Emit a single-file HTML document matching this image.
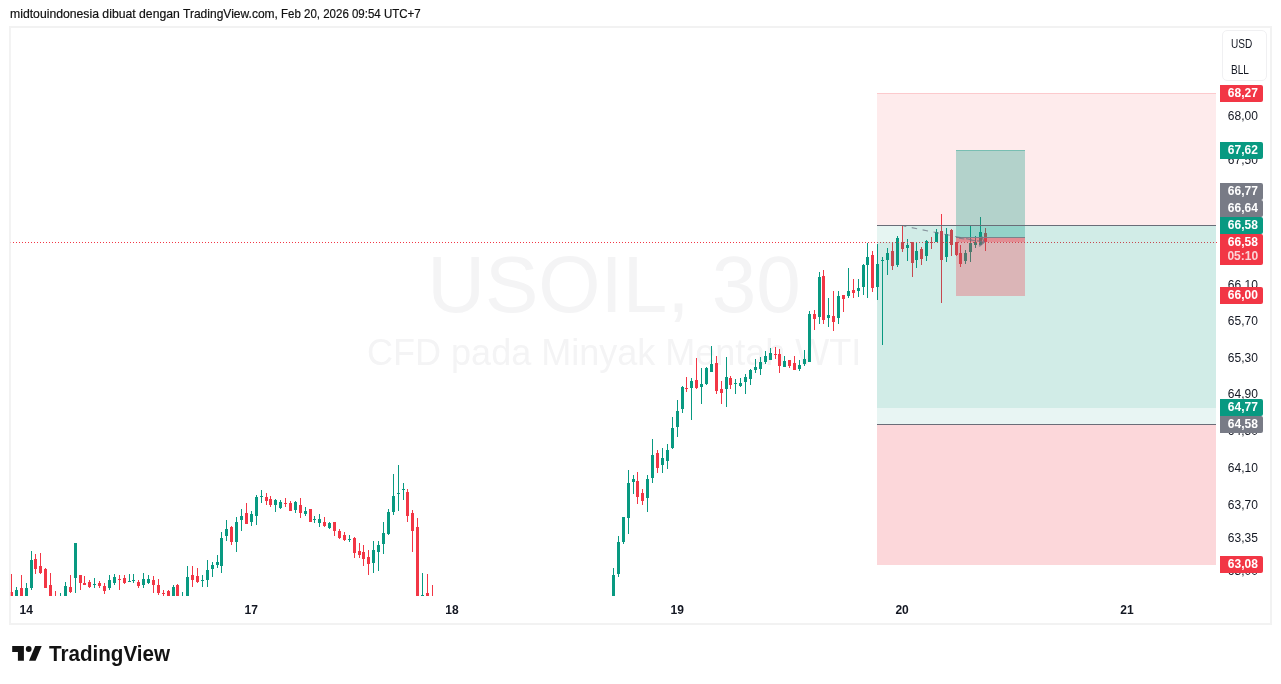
<!DOCTYPE html>
<html><head><meta charset="utf-8"><title>USOIL</title>
<style>
html,body{margin:0;padding:0;background:#fff}
body{width:1281px;height:684px;position:relative;overflow:hidden;font-family:"Liberation Sans",sans-serif;color:#131722}
#hdr{position:absolute;left:10px;top:6.4px;font-size:13px;line-height:15px;white-space:nowrap;color:#111;-webkit-text-stroke:0.2px #111}
#hdr span{position:absolute;top:0;transform-origin:0 50%;white-space:pre}
#frame{position:absolute;left:9px;top:26px;width:1259px;height:595px;border:2px solid #f2f2f2}
#wm1{position:absolute;left:0;width:1228px;top:238.5px;text-align:center;font-size:80px;line-height:92px;color:#f4f4f5;white-space:nowrap}
#wm2{position:absolute;left:0;width:1228.4px;top:333px;text-align:center;font-size:36px;line-height:40px;color:#f4f4f5;white-space:nowrap}
svg{position:absolute;left:0;top:0}
#root{position:absolute;left:0;top:0;width:1281px;height:684px;will-change:transform}
.tk{position:absolute;left:1220px;width:45.6px;text-align:center;font-size:12px;line-height:16px;height:16px;color:#131722}
.lb{position:absolute;left:1220px;width:43px;box-sizing:border-box;padding-left:2.6px;text-align:center;font-size:12px;font-weight:bold;line-height:17px;color:#fff;border-radius:0 2px 2px 0}
.tm{position:absolute;top:602px;width:40px;text-align:center;font-size:12px;font-weight:bold;line-height:16px;color:#131722}
#cur{position:absolute;left:1220px;top:234px;width:43px;height:31px;background:#f23645;border-radius:0 2px 2px 0;box-sizing:border-box;padding-left:2.6px;text-align:center;font-size:12px;font-weight:bold;color:#fff}
#cur div{line-height:14px;height:14px}
#cur .p{margin-top:1px}
#cur .t{color:#fbd3d6;margin-top:0px}
#unit{position:absolute;left:1222.2px;top:30px;width:43px;height:49px;border:1px solid #f0f0f2;border-radius:5px;background:#fff;font-size:12px;text-align:center;color:#131722}
#unit div{position:absolute;left:8px;line-height:14px;transform:scaleX(0.84);transform-origin:0 50%;white-space:nowrap}
#tv{position:absolute;left:49px;top:641px;font-size:21.7px;font-weight:bold;line-height:26px;color:#131313;letter-spacing:0;white-space:nowrap;transform:scaleX(0.95);transform-origin:0 50%}
</style></head><body>
<div id="root">
<div id="hdr"><span style="left:0;transform:scaleX(0.9398)">midtouindonesia dibuat dengan </span><span style="left:173px;transform:scaleX(0.9255)">TradingView.com, </span><span style="left:271.3px;transform:scaleX(0.8846)">Feb 20, 2026 09:54 UTC+7</span></div>
<div id="frame"></div>
<div id="wm1">USOIL, 30</div>
<div id="wm2">CFD pada Minyak Mentah WTI</div>
<svg width="1281" height="684" viewBox="0 0 1281 684" shape-rendering="crispEdges">
<defs><clipPath id="pane"><rect x="10" y="28" width="1207" height="568"/></clipPath></defs>
<g clip-path="url(#pane)">
<rect x="11" y="574" width="1" height="22" fill="#f23645"/>
<rect x="10" y="592" width="3" height="4" fill="#f23645"/>
<rect x="16" y="587" width="1" height="9" fill="#089981"/>
<rect x="15" y="590" width="3" height="6" fill="#089981"/>
<rect x="21" y="575" width="1" height="21" fill="#f23645"/>
<rect x="20" y="588" width="3" height="8" fill="#f23645"/>
<rect x="26" y="583" width="1" height="13" fill="#089981"/>
<rect x="25" y="588" width="3" height="8" fill="#089981"/>
<rect x="31" y="551" width="1" height="39" fill="#089981"/>
<rect x="30" y="560" width="3" height="28" fill="#089981"/>
<rect x="35" y="554" width="1" height="20" fill="#f23645"/>
<rect x="34" y="559" width="3" height="10" fill="#f23645"/>
<rect x="40" y="553" width="1" height="21" fill="#f23645"/>
<rect x="39" y="566" width="3" height="7" fill="#f23645"/>
<rect x="45" y="568" width="1" height="20" fill="#f23645"/>
<rect x="44" y="569" width="3" height="19" fill="#f23645"/>
<rect x="50" y="573" width="1" height="23" fill="#f23645"/>
<rect x="49" y="585" width="3" height="11" fill="#f23645"/>
<rect x="55" y="591" width="1" height="5" fill="#f23645"/>
<rect x="60" y="593" width="1" height="3" fill="#089981"/>
<rect x="65" y="582" width="1" height="14" fill="#089981"/>
<rect x="64" y="586" width="3" height="10" fill="#089981"/>
<rect x="70" y="575" width="1" height="18" fill="#f23645"/>
<rect x="69" y="587" width="3" height="5" fill="#f23645"/>
<rect x="75" y="543" width="1" height="50" fill="#089981"/>
<rect x="74" y="543" width="3" height="35" fill="#089981"/>
<rect x="80" y="575" width="1" height="15" fill="#f23645"/>
<rect x="79" y="575" width="3" height="8" fill="#f23645"/>
<rect x="84" y="576" width="1" height="9" fill="#f23645"/>
<rect x="83" y="583" width="3" height="2" fill="#f23645"/>
<rect x="89" y="580" width="1" height="8" fill="#f23645"/>
<rect x="88" y="582" width="3" height="5" fill="#f23645"/>
<rect x="94" y="578" width="1" height="10" fill="#089981"/>
<rect x="93" y="584" width="3" height="1" fill="#089981"/>
<rect x="99" y="581" width="1" height="7" fill="#f23645"/>
<rect x="98" y="583" width="3" height="3" fill="#f23645"/>
<rect x="104" y="583" width="1" height="11" fill="#f23645"/>
<rect x="103" y="586" width="3" height="5" fill="#f23645"/>
<rect x="109" y="575" width="1" height="15" fill="#089981"/>
<rect x="108" y="580" width="3" height="8" fill="#089981"/>
<rect x="114" y="574" width="1" height="11" fill="#089981"/>
<rect x="113" y="577" width="3" height="6" fill="#089981"/>
<rect x="119" y="575" width="1" height="15" fill="#f23645"/>
<rect x="118" y="579" width="3" height="1" fill="#f23645"/>
<rect x="124" y="575" width="1" height="9" fill="#f23645"/>
<rect x="123" y="578" width="3" height="5" fill="#f23645"/>
<rect x="129" y="574" width="1" height="8" fill="#089981"/>
<rect x="128" y="581" width="3" height="1" fill="#089981"/>
<rect x="133" y="574" width="1" height="9" fill="#089981"/>
<rect x="132" y="580" width="3" height="1" fill="#089981"/>
<rect x="138" y="580" width="1" height="8" fill="#f23645"/>
<rect x="137" y="582" width="3" height="4" fill="#f23645"/>
<rect x="143" y="573" width="1" height="15" fill="#089981"/>
<rect x="142" y="579" width="3" height="6" fill="#089981"/>
<rect x="148" y="575" width="1" height="9" fill="#089981"/>
<rect x="147" y="579" width="3" height="4" fill="#089981"/>
<rect x="153" y="576" width="1" height="17" fill="#f23645"/>
<rect x="152" y="580" width="3" height="5" fill="#f23645"/>
<rect x="158" y="579" width="1" height="16" fill="#f23645"/>
<rect x="157" y="585" width="3" height="8" fill="#f23645"/>
<rect x="163" y="590" width="1" height="6" fill="#f23645"/>
<rect x="162" y="593" width="3" height="1" fill="#f23645"/>
<rect x="168" y="590" width="1" height="6" fill="#f23645"/>
<rect x="167" y="591" width="3" height="5" fill="#f23645"/>
<rect x="173" y="585" width="1" height="11" fill="#089981"/>
<rect x="172" y="587" width="3" height="9" fill="#089981"/>
<rect x="177" y="584" width="1" height="12" fill="#f23645"/>
<rect x="176" y="585" width="3" height="11" fill="#f23645"/>
<rect x="182" y="592" width="1" height="4" fill="#089981"/>
<rect x="187" y="566" width="1" height="30" fill="#089981"/>
<rect x="186" y="577" width="3" height="19" fill="#089981"/>
<rect x="192" y="566" width="1" height="21" fill="#f23645"/>
<rect x="191" y="575" width="3" height="5" fill="#f23645"/>
<rect x="197" y="568" width="1" height="15" fill="#f23645"/>
<rect x="196" y="576" width="3" height="6" fill="#f23645"/>
<rect x="202" y="575" width="1" height="12" fill="#089981"/>
<rect x="201" y="580" width="3" height="1" fill="#089981"/>
<rect x="207" y="560" width="1" height="27" fill="#089981"/>
<rect x="206" y="570" width="3" height="10" fill="#089981"/>
<rect x="212" y="562" width="1" height="15" fill="#089981"/>
<rect x="211" y="565" width="3" height="4" fill="#089981"/>
<rect x="217" y="555" width="1" height="13" fill="#089981"/>
<rect x="216" y="562" width="3" height="3" fill="#089981"/>
<rect x="221" y="532" width="1" height="41" fill="#089981"/>
<rect x="220" y="538" width="3" height="28" fill="#089981"/>
<rect x="226" y="520" width="1" height="21" fill="#089981"/>
<rect x="225" y="529" width="3" height="7" fill="#089981"/>
<rect x="231" y="526" width="1" height="19" fill="#f23645"/>
<rect x="230" y="527" width="3" height="15" fill="#f23645"/>
<rect x="236" y="517" width="1" height="35" fill="#089981"/>
<rect x="235" y="522" width="3" height="20" fill="#089981"/>
<rect x="241" y="509" width="1" height="22" fill="#089981"/>
<rect x="240" y="516" width="3" height="4" fill="#089981"/>
<rect x="246" y="503" width="1" height="21" fill="#f23645"/>
<rect x="245" y="513" width="3" height="11" fill="#f23645"/>
<rect x="251" y="511" width="1" height="15" fill="#089981"/>
<rect x="250" y="514" width="3" height="8" fill="#089981"/>
<rect x="256" y="495" width="1" height="30" fill="#089981"/>
<rect x="255" y="497" width="3" height="19" fill="#089981"/>
<rect x="261" y="490" width="1" height="13" fill="#089981"/>
<rect x="260" y="496" width="3" height="1" fill="#089981"/>
<rect x="266" y="493" width="1" height="12" fill="#f23645"/>
<rect x="265" y="497" width="3" height="4" fill="#f23645"/>
<rect x="270" y="496" width="1" height="11" fill="#f23645"/>
<rect x="269" y="499" width="3" height="6" fill="#f23645"/>
<rect x="275" y="499" width="1" height="13" fill="#089981"/>
<rect x="274" y="500" width="3" height="5" fill="#089981"/>
<rect x="280" y="500" width="1" height="9" fill="#089981"/>
<rect x="279" y="502" width="3" height="6" fill="#089981"/>
<rect x="285" y="498" width="1" height="9" fill="#f23645"/>
<rect x="284" y="503" width="3" height="1" fill="#f23645"/>
<rect x="290" y="501" width="1" height="10" fill="#f23645"/>
<rect x="289" y="503" width="3" height="8" fill="#f23645"/>
<rect x="295" y="501" width="1" height="12" fill="#089981"/>
<rect x="294" y="502" width="3" height="8" fill="#089981"/>
<rect x="300" y="498" width="1" height="20" fill="#f23645"/>
<rect x="299" y="505" width="3" height="8" fill="#f23645"/>
<rect x="305" y="507" width="1" height="9" fill="#089981"/>
<rect x="304" y="511" width="3" height="3" fill="#089981"/>
<rect x="310" y="509" width="1" height="13" fill="#f23645"/>
<rect x="309" y="509" width="3" height="13" fill="#f23645"/>
<rect x="314" y="516" width="1" height="7" fill="#089981"/>
<rect x="313" y="519" width="3" height="1" fill="#089981"/>
<rect x="319" y="514" width="1" height="13" fill="#089981"/>
<rect x="318" y="519" width="3" height="4" fill="#089981"/>
<rect x="324" y="517" width="1" height="10" fill="#f23645"/>
<rect x="323" y="522" width="3" height="4" fill="#f23645"/>
<rect x="329" y="522" width="1" height="7" fill="#089981"/>
<rect x="328" y="523" width="3" height="5" fill="#089981"/>
<rect x="334" y="522" width="1" height="14" fill="#f23645"/>
<rect x="333" y="522" width="3" height="9" fill="#f23645"/>
<rect x="339" y="529" width="1" height="10" fill="#f23645"/>
<rect x="338" y="531" width="3" height="7" fill="#f23645"/>
<rect x="344" y="532" width="1" height="9" fill="#f23645"/>
<rect x="343" y="535" width="3" height="5" fill="#f23645"/>
<rect x="349" y="535" width="1" height="7" fill="#089981"/>
<rect x="348" y="539" width="3" height="1" fill="#089981"/>
<rect x="354" y="537" width="1" height="21" fill="#f23645"/>
<rect x="353" y="538" width="3" height="15" fill="#f23645"/>
<rect x="359" y="543" width="1" height="15" fill="#f23645"/>
<rect x="358" y="551" width="3" height="4" fill="#f23645"/>
<rect x="363" y="545" width="1" height="21" fill="#f23645"/>
<rect x="362" y="552" width="3" height="7" fill="#f23645"/>
<rect x="368" y="550" width="1" height="25" fill="#f23645"/>
<rect x="367" y="557" width="3" height="7" fill="#f23645"/>
<rect x="373" y="541" width="1" height="32" fill="#089981"/>
<rect x="372" y="550" width="3" height="13" fill="#089981"/>
<rect x="378" y="541" width="1" height="30" fill="#089981"/>
<rect x="377" y="545" width="3" height="7" fill="#089981"/>
<rect x="383" y="522" width="1" height="32" fill="#089981"/>
<rect x="382" y="533" width="3" height="11" fill="#089981"/>
<rect x="388" y="509" width="1" height="26" fill="#089981"/>
<rect x="387" y="512" width="3" height="22" fill="#089981"/>
<rect x="393" y="474" width="1" height="41" fill="#089981"/>
<rect x="392" y="496" width="3" height="16" fill="#089981"/>
<rect x="398" y="465" width="1" height="46" fill="#089981"/>
<rect x="397" y="493" width="3" height="1" fill="#089981"/>
<rect x="403" y="483" width="1" height="17" fill="#089981"/>
<rect x="402" y="489" width="3" height="1" fill="#089981"/>
<rect x="407" y="489" width="1" height="33" fill="#f23645"/>
<rect x="406" y="492" width="3" height="24" fill="#f23645"/>
<rect x="412" y="510" width="1" height="42" fill="#f23645"/>
<rect x="411" y="513" width="3" height="18" fill="#f23645"/>
<rect x="417" y="518" width="1" height="78" fill="#f23645"/>
<rect x="416" y="527" width="3" height="69" fill="#f23645"/>
<rect x="422" y="573" width="1" height="23" fill="#089981"/>
<rect x="421" y="595" width="3" height="1" fill="#089981"/>
<rect x="427" y="574" width="1" height="22" fill="#f23645"/>
<rect x="426" y="593" width="3" height="3" fill="#f23645"/>
<rect x="432" y="585" width="1" height="11" fill="#f23645"/>
<rect x="613" y="568" width="1" height="28" fill="#089981"/>
<rect x="612" y="575" width="3" height="21" fill="#089981"/>
<rect x="618" y="536" width="1" height="41" fill="#089981"/>
<rect x="617" y="542" width="3" height="32" fill="#089981"/>
<rect x="623" y="517" width="1" height="27" fill="#089981"/>
<rect x="622" y="517" width="3" height="25" fill="#089981"/>
<rect x="628" y="470" width="1" height="64" fill="#089981"/>
<rect x="627" y="483" width="3" height="35" fill="#089981"/>
<rect x="633" y="475" width="1" height="19" fill="#089981"/>
<rect x="632" y="479" width="3" height="3" fill="#089981"/>
<rect x="637" y="472" width="1" height="32" fill="#f23645"/>
<rect x="636" y="481" width="3" height="16" fill="#f23645"/>
<rect x="642" y="489" width="1" height="16" fill="#f23645"/>
<rect x="641" y="493" width="3" height="8" fill="#f23645"/>
<rect x="647" y="475" width="1" height="37" fill="#089981"/>
<rect x="646" y="479" width="3" height="19" fill="#089981"/>
<rect x="652" y="439" width="1" height="44" fill="#089981"/>
<rect x="651" y="455" width="3" height="23" fill="#089981"/>
<rect x="657" y="450" width="1" height="23" fill="#f23645"/>
<rect x="656" y="453" width="3" height="15" fill="#f23645"/>
<rect x="662" y="448" width="1" height="25" fill="#089981"/>
<rect x="661" y="458" width="3" height="7" fill="#089981"/>
<rect x="667" y="444" width="1" height="25" fill="#089981"/>
<rect x="666" y="450" width="3" height="11" fill="#089981"/>
<rect x="672" y="417" width="1" height="32" fill="#089981"/>
<rect x="671" y="428" width="3" height="20" fill="#089981"/>
<rect x="677" y="400" width="1" height="37" fill="#089981"/>
<rect x="676" y="411" width="3" height="16" fill="#089981"/>
<rect x="682" y="386" width="1" height="27" fill="#089981"/>
<rect x="681" y="387" width="3" height="22" fill="#089981"/>
<rect x="686" y="377" width="1" height="15" fill="#f23645"/>
<rect x="685" y="388" width="3" height="1" fill="#f23645"/>
<rect x="691" y="378" width="1" height="42" fill="#089981"/>
<rect x="690" y="381" width="3" height="7" fill="#089981"/>
<rect x="696" y="358" width="1" height="31" fill="#f23645"/>
<rect x="695" y="380" width="3" height="8" fill="#f23645"/>
<rect x="701" y="368" width="1" height="36" fill="#089981"/>
<rect x="700" y="384" width="3" height="3" fill="#089981"/>
<rect x="706" y="367" width="1" height="18" fill="#089981"/>
<rect x="705" y="368" width="3" height="16" fill="#089981"/>
<rect x="711" y="346" width="1" height="26" fill="#089981"/>
<rect x="710" y="364" width="3" height="8" fill="#089981"/>
<rect x="716" y="356" width="1" height="38" fill="#f23645"/>
<rect x="715" y="363" width="3" height="28" fill="#f23645"/>
<rect x="721" y="381" width="1" height="23" fill="#f23645"/>
<rect x="720" y="389" width="3" height="4" fill="#f23645"/>
<rect x="726" y="357" width="1" height="50" fill="#089981"/>
<rect x="725" y="377" width="3" height="12" fill="#089981"/>
<rect x="730" y="376" width="1" height="13" fill="#f23645"/>
<rect x="729" y="378" width="3" height="7" fill="#f23645"/>
<rect x="735" y="379" width="1" height="15" fill="#089981"/>
<rect x="734" y="383" width="3" height="1" fill="#089981"/>
<rect x="740" y="378" width="1" height="9" fill="#089981"/>
<rect x="739" y="383" width="3" height="3" fill="#089981"/>
<rect x="745" y="374" width="1" height="20" fill="#089981"/>
<rect x="744" y="377" width="3" height="5" fill="#089981"/>
<rect x="750" y="369" width="1" height="16" fill="#089981"/>
<rect x="749" y="370" width="3" height="9" fill="#089981"/>
<rect x="755" y="359" width="1" height="14" fill="#089981"/>
<rect x="754" y="367" width="3" height="3" fill="#089981"/>
<rect x="760" y="357" width="1" height="18" fill="#089981"/>
<rect x="759" y="362" width="3" height="7" fill="#089981"/>
<rect x="765" y="351" width="1" height="13" fill="#089981"/>
<rect x="764" y="356" width="3" height="6" fill="#089981"/>
<rect x="770" y="348" width="1" height="12" fill="#089981"/>
<rect x="769" y="353" width="3" height="7" fill="#089981"/>
<rect x="775" y="347" width="1" height="12" fill="#f23645"/>
<rect x="774" y="354" width="3" height="1" fill="#f23645"/>
<rect x="779" y="349" width="1" height="24" fill="#f23645"/>
<rect x="778" y="354" width="3" height="12" fill="#f23645"/>
<rect x="784" y="356" width="1" height="11" fill="#089981"/>
<rect x="783" y="361" width="3" height="6" fill="#089981"/>
<rect x="789" y="360" width="1" height="8" fill="#f23645"/>
<rect x="788" y="360" width="3" height="6" fill="#f23645"/>
<rect x="794" y="356" width="1" height="14" fill="#f23645"/>
<rect x="793" y="363" width="3" height="7" fill="#f23645"/>
<rect x="799" y="360" width="1" height="11" fill="#089981"/>
<rect x="798" y="365" width="3" height="4" fill="#089981"/>
<rect x="804" y="350" width="1" height="16" fill="#089981"/>
<rect x="803" y="359" width="3" height="5" fill="#089981"/>
<rect x="809" y="311" width="1" height="51" fill="#089981"/>
<rect x="808" y="314" width="3" height="48" fill="#089981"/>
<rect x="814" y="310" width="1" height="20" fill="#f23645"/>
<rect x="813" y="314" width="3" height="5" fill="#f23645"/>
<rect x="819" y="272" width="1" height="52" fill="#089981"/>
<rect x="818" y="277" width="3" height="40" fill="#089981"/>
<rect x="823" y="270" width="1" height="54" fill="#f23645"/>
<rect x="822" y="276" width="3" height="44" fill="#f23645"/>
<rect x="828" y="298" width="1" height="29" fill="#089981"/>
<rect x="827" y="315" width="3" height="3" fill="#089981"/>
<rect x="833" y="291" width="1" height="40" fill="#f23645"/>
<rect x="832" y="316" width="3" height="6" fill="#f23645"/>
<rect x="838" y="291" width="1" height="33" fill="#089981"/>
<rect x="837" y="296" width="3" height="22" fill="#089981"/>
<rect x="843" y="295" width="1" height="17" fill="#f23645"/>
<rect x="842" y="295" width="3" height="4" fill="#f23645"/>
<rect x="848" y="268" width="1" height="30" fill="#089981"/>
<rect x="847" y="291" width="3" height="5" fill="#089981"/>
<rect x="853" y="279" width="1" height="19" fill="#f23645"/>
<rect x="852" y="290" width="3" height="3" fill="#f23645"/>
<rect x="858" y="279" width="1" height="18" fill="#089981"/>
<rect x="857" y="288" width="3" height="3" fill="#089981"/>
<rect x="863" y="264" width="1" height="31" fill="#089981"/>
<rect x="862" y="265" width="3" height="22" fill="#089981"/>
<rect x="867" y="243" width="1" height="55" fill="#089981"/>
<rect x="866" y="257" width="3" height="8" fill="#089981"/>
<rect x="872" y="251" width="1" height="41" fill="#f23645"/>
<rect x="871" y="255" width="3" height="33" fill="#f23645"/>
<rect x="877" y="244" width="1" height="56" fill="#089981"/>
<rect x="876" y="264" width="3" height="23" fill="#089981"/>
<rect x="882" y="257" width="1" height="88" fill="#089981"/>
<rect x="881" y="260" width="3" height="1" fill="#089981"/>
<rect x="887" y="248" width="1" height="27" fill="#089981"/>
<rect x="886" y="253" width="3" height="7" fill="#089981"/>
<rect x="892" y="242" width="1" height="28" fill="#f23645"/>
<rect x="891" y="251" width="3" height="15" fill="#f23645"/>
<rect x="897" y="236" width="1" height="31" fill="#089981"/>
<rect x="896" y="238" width="3" height="27" fill="#089981"/>
<rect x="902" y="226" width="1" height="26" fill="#f23645"/>
<rect x="901" y="242" width="3" height="7" fill="#f23645"/>
<rect x="907" y="239" width="1" height="22" fill="#089981"/>
<rect x="906" y="245" width="3" height="3" fill="#089981"/>
<rect x="912" y="242" width="1" height="35" fill="#f23645"/>
<rect x="911" y="242" width="3" height="21" fill="#f23645"/>
<rect x="916" y="242" width="1" height="26" fill="#089981"/>
<rect x="915" y="251" width="3" height="9" fill="#089981"/>
<rect x="921" y="247" width="1" height="18" fill="#f23645"/>
<rect x="920" y="249" width="3" height="10" fill="#f23645"/>
<rect x="926" y="240" width="1" height="21" fill="#089981"/>
<rect x="925" y="241" width="3" height="15" fill="#089981"/>
<rect x="931" y="237" width="1" height="12" fill="#f23645"/>
<rect x="930" y="242" width="3" height="1" fill="#f23645"/>
<rect x="936" y="229" width="1" height="13" fill="#089981"/>
<rect x="935" y="232" width="3" height="10" fill="#089981"/>
<rect x="941" y="214" width="1" height="89" fill="#f23645"/>
<rect x="940" y="231" width="3" height="29" fill="#f23645"/>
<rect x="946" y="228" width="1" height="34" fill="#089981"/>
<rect x="945" y="234" width="3" height="23" fill="#089981"/>
<rect x="951" y="229" width="1" height="27" fill="#f23645"/>
<rect x="950" y="230" width="3" height="15" fill="#f23645"/>
<rect x="956" y="242" width="1" height="14" fill="#f23645"/>
<rect x="955" y="242" width="3" height="13" fill="#f23645"/>
<rect x="960" y="245" width="1" height="22" fill="#f23645"/>
<rect x="959" y="253" width="3" height="11" fill="#f23645"/>
<rect x="965" y="250" width="1" height="14" fill="#089981"/>
<rect x="964" y="253" width="3" height="8" fill="#089981"/>
<rect x="970" y="226" width="1" height="36" fill="#089981"/>
<rect x="969" y="243" width="3" height="9" fill="#089981"/>
<rect x="975" y="236" width="1" height="12" fill="#089981"/>
<rect x="974" y="242" width="3" height="3" fill="#089981"/>
<rect x="980" y="217" width="1" height="28" fill="#089981"/>
<rect x="979" y="232" width="3" height="13" fill="#089981"/>
<rect x="985" y="228" width="1" height="23" fill="#f23645"/>
<rect x="984" y="233" width="3" height="9" fill="#f23645"/>
<line x1="10" y1="242.5" x2="1218" y2="242.5" stroke="#f23645" stroke-width="1" stroke-dasharray="1 2"/>
<rect x="10" y="28" width="1" height="568" fill="#f4f4f4" fill-opacity="0.7"/>
<!-- zones -->
<rect x="877" y="93" width="339" height="132" fill="rgba(242,54,69,0.1)"/>
<rect x="877" y="93" width="339" height="1" fill="rgba(242,54,69,0.18)"/>
<rect x="877" y="226" width="339" height="182" fill="rgba(8,153,129,0.1)"/>
<rect x="903" y="226" width="313" height="16" fill="rgba(8,153,129,0.095)"/>
<rect x="877" y="242" width="339" height="182" fill="rgba(8,153,129,0.095)"/>
<rect x="877" y="425" width="339" height="140" fill="rgba(242,54,69,0.2)"/>
<!-- small position -->
<rect x="956" y="150" width="69" height="87" fill="rgba(8,153,129,0.3)"/>
<rect x="956" y="150" width="69" height="1" fill="rgba(8,153,129,0.35)"/>
<rect x="956" y="238" width="69" height="58" fill="rgba(242,54,69,0.3)"/>
<rect x="956" y="238" width="69" height="4" fill="rgba(242,54,69,0.3)"/>
<rect x="877" y="225" width="339" height="1" fill="#6a6d78"/>
<rect x="877" y="424" width="339" height="1" fill="#6a6d78"/>
<rect x="956" y="237" width="69" height="1" fill="#7a838b"/>
<g shape-rendering="auto" fill="none" stroke="#6f7684" stroke-opacity="0.75" stroke-width="1.1">
<line x1="903.5" y1="226" x2="984" y2="242.2" stroke-dasharray="5.5 5.6" stroke-dashoffset="2.7"/>
<line x1="956" y1="237.6" x2="984" y2="242.2" stroke-dasharray="5.5 5.6" stroke-dashoffset="-3"/>
<path d="M981.8 236.2 L984.2 242.3 L979 246.2" />
<path d="M981.2 236.8 L984.2 242.3 L979.6 246.6" stroke-opacity="0.4"/>
</g>
</g>
</svg>
<div class="tk" style="top:107.5px">68,00</div><div class="tk" style="top:151.5px">67,50</div><div class="tk" style="top:196.0px">67,00</div><div class="tk" style="top:276.5px">66,10</div><div class="tk" style="top:312.5px">65,70</div><div class="tk" style="top:349.5px">65,30</div><div class="tk" style="top:385.5px">64,90</div><div class="tk" style="top:422.5px">64,50</div><div class="tk" style="top:459.5px">64,10</div><div class="tk" style="top:497.0px">63,70</div><div class="tk" style="top:530.0px">63,35</div><div class="tk" style="top:562.5px">63,00</div>
<div class="lb" style="top:85px;height:17px;background:#f23645">68,27</div><div class="lb" style="top:142px;height:17px;background:#089981">67,62</div><div class="lb" style="top:183px;height:17px;background:#787b86">66,77</div><div class="lb" style="top:200px;height:17px;background:#787b86">66,64</div><div class="lb" style="top:217px;height:17px;background:#089981">66,58</div><div class="lb" style="top:287px;height:17px;background:#f23645">66,00</div><div class="lb" style="top:399px;height:17px;background:#089981">64,77</div><div class="lb" style="top:416px;height:17px;background:#787b86">64,58</div><div class="lb" style="top:556px;height:17px;background:#f23645">63,08</div>
<div id="cur"><div class="p">66,58</div><div class="t">05:10</div></div>
<div id="unit"><div style="top:5.8px">USD</div><div style="top:32px">BLL</div></div>
<div class="tm" style="left:6.3px">14</div><div class="tm" style="left:231.2px">17</div><div class="tm" style="left:431.9px">18</div><div class="tm" style="left:657.3px">19</div><div class="tm" style="left:882.1px">20</div><div class="tm" style="left:1107.0px">21</div>
<svg width="1281" height="684" viewBox="0 0 1281 684" style="pointer-events:none">
<g fill="#131313">
<path d="M12.2 646.1 H23.9 V660.8 H17.9 V652 H12.2 Z"/>
<circle cx="28.7" cy="649" r="2.9"/>
<path d="M35.2 646.1 H41.7 L35.6 660.8 H29.0 Z"/>
</g>
</svg>
<div id="tv">TradingView</div>
</div>
</body></html>
